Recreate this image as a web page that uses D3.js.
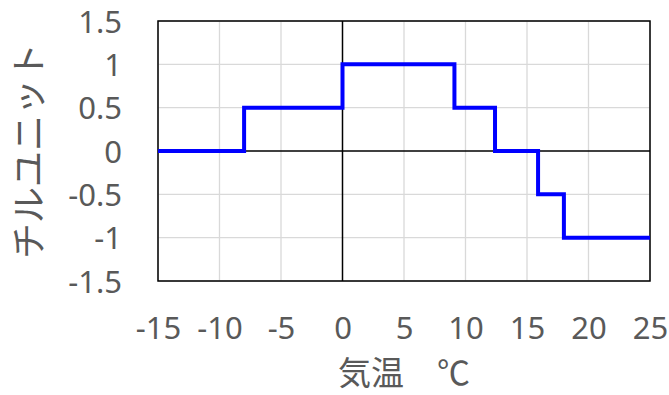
<!DOCTYPE html>
<html><head><meta charset="utf-8">
<script src="https://cdn.jsdelivr.net/npm/d3@7"></script>
<style>html,body{margin:0;padding:0;background:#fff;}</style>
</head><body>
<svg id="chart" width="669" height="395"></svg>
<script>
// Data: chill units per air temperature range (step function)
const stepStarts = [-15, -8, 0, 9.1, 12.4, 15.9, 18];
const stepValues = [0, 0.5, 1, 0.5, 0, -0.5, -1];
const xEnd = 25;
const xTicks = [-15, -10, -5, 0, 5, 10, 15, 20, 25];
const yTicks = [-1.5, -1, -0.5, 0, 0.5, 1, 1.5];
const xTitle = "気温　℃";
const yTitle = "チルユニット";

const svg = d3.select("#chart");
const L = 158, R = 650, T = 21, B = 281;
const x = d3.scaleLinear().domain([-15, 25]).range([L, R]);
const y = d3.scaleLinear().domain([-1.5, 1.5]).range([B, T]);
const grid = "#d9d9d9", txt = "#595959";
const font = "'Noto Sans', 'Open Sans', sans-serif";
const fmt = d => String(d);

// gridlines
svg.append("g").selectAll("line").data(xTicks.filter(d => d !== 0)).join("line")
  .attr("x1", d => x(d)).attr("x2", d => x(d)).attr("y1", T).attr("y2", B)
  .attr("stroke", grid).attr("stroke-width", 1.3);
svg.append("g").selectAll("line").data(yTicks.filter(d => d !== 0)).join("line")
  .attr("y1", d => y(d)).attr("y2", d => y(d)).attr("x1", L).attr("x2", R)
  .attr("stroke", grid).attr("stroke-width", 1.3);

// zero axes
svg.append("line").attr("x1", x(0)).attr("x2", x(0)).attr("y1", T).attr("y2", B)
  .attr("stroke", "#000").attr("stroke-width", 1.5);
svg.append("line").attr("x1", L).attr("x2", R).attr("y1", y(0)).attr("y2", y(0))
  .attr("stroke", "#000").attr("stroke-width", 1.5);

// border
svg.append("rect").attr("x", L).attr("y", T).attr("width", R - L).attr("height", B - T)
  .attr("fill", "none").attr("stroke", "#000").attr("stroke-width", 1.5);

// step line
const pts = stepStarts.map((s, i) => [s, stepValues[i]]);
pts.push([xEnd, stepValues[stepValues.length - 1]]);
const line = d3.line().x(d => x(d[0])).y(d => y(d[1])).curve(d3.curveStepAfter);
svg.append("path").attr("d", line(pts)).attr("fill", "none")
  .attr("stroke", "#0000ff").attr("stroke-width", 4).attr("stroke-linejoin", "miter");

// axes labels via d3 axes (domain/ticks hidden)
const xAxis = svg.append("g").attr("transform", `translate(0,${B})`)
  .call(d3.axisBottom(x).tickValues(xTicks).tickSize(0).tickPadding(0).tickFormat(fmt));
xAxis.select(".domain").remove();
xAxis.selectAll("text").attr("y", 58).attr("dy", 0)
  .attr("font-family", font).attr("font-size", 31).attr("fill", txt);

const yAxis = svg.append("g").attr("transform", `translate(122,0)`)
  .call(d3.axisLeft(y).tickValues(yTicks).tickSize(0).tickPadding(0).tickFormat(fmt));
yAxis.select(".domain").remove();
yAxis.selectAll("text").attr("x", 0).attr("dy", "0.36em")
  .attr("font-family", font).attr("font-size", 31).attr("fill", txt);

// titles
svg.append("text").attr("x", (L + R) / 2).attr("y", 385).attr("text-anchor", "middle")
  .attr("font-family", "'Noto Sans CJK JP', sans-serif").attr("font-size", 33).attr("fill", txt)
  .text(xTitle);
svg.append("text").attr("transform", `translate(42,${(T + B) / 2}) rotate(-90)`)
  .attr("text-anchor", "middle")
  .attr("font-family", "'Noto Sans CJK JP', sans-serif").attr("font-size", 36).attr("fill", txt)
  .text(yTitle);
</script>
</body></html>
